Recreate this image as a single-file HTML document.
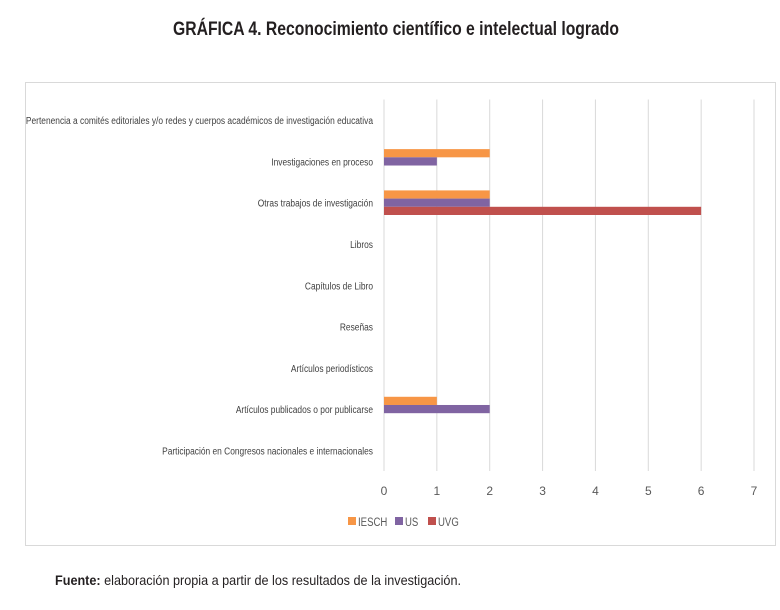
<!DOCTYPE html>
<html><head><meta charset="utf-8"><style>
body{margin:0;background:#fff;width:780px;height:605px;overflow:hidden;font-family:"Liberation Sans",sans-serif;}
svg text{font-family:"Liberation Sans",sans-serif;}
</style></head><body>
<svg id="chart" width="780" height="605">
<text x="173" y="35" font-size="19" font-weight="bold" fill="#231f20" textLength="446" lengthAdjust="spacingAndGlyphs">GRÁFICA 4. Reconocimiento científico e intelectual logrado</text>
<rect x="25.5" y="82.5" width="750" height="463" fill="none" stroke="#d9d9d9"/>
<g id="grid"></g><g id="bars"></g><g id="labels"></g><g id="legend"></g>
<text x="55" y="585" font-size="14" fill="#231f20" textLength="406" lengthAdjust="spacingAndGlyphs"><tspan font-weight="bold">Fuente:</tspan> elaboración propia a partir de los resultados de la investigación.</text>
</svg>
<script>
const categories=["Pertenencia a comités editoriales y/o redes y cuerpos académicos de investigación educativa","Investigaciones en proceso","Otras trabajos de investigación","Libros","Capítulos de Libro","Reseñas","Artículos periodísticos","Artículos publicados o por publicarse","Participación en Congresos nacionales e internacionales"];
const iesch=[0,2,2,0,0,0,0,1,0];
const us=[0,1,2,0,0,0,0,2,0];
const uvg=[0,0,6,0,0,0,0,0,0];
const ticks=[0,1,2,3,4,5,6,7];
const seriesNames=["IESCH","US","UVG"];
const colors=["#f79646","#8064a2","#c0504d"];
const NS="http://www.w3.org/2000/svg";
const x0=384,x1=754,yTop=99.5,yBot=471;
const xs=v=>x0+(x1-x0)*v/7;
const band=(yBot-yTop)/categories.length;
const yc=i=>yTop+band*(i+0.5);
function mk(t,a,p){const e=document.createElementNS(NS,t);for(const k in a)e.setAttribute(k,a[k]);p.appendChild(e);return e;}
const g=document.getElementById('grid');
ticks.forEach(t=>{
 const l=mk('line',{x1:xs(t),x2:xs(t),y1:yTop,y2:yBot,stroke:'#d9d9d9','stroke-width':1},g);
 
 
 const tx=mk('text',{x:xs(t),y:495,'text-anchor':'middle','font-size':12,fill:'#595959'},g);
 tx.textContent=t;
 
 
});
const bg=document.getElementById('bars');
const series=[iesch,us,uvg];
const bh=8.2;
const lbl=document.getElementById('labels');
categories.forEach((c,i)=>{
 const lab=mk('text',{x:0,y:0,'text-anchor':'end','font-size':10.5,fill:'#404040',transform:'translate(373,'+(yc(i)+4)+') scale(0.8,1)'},lbl);
 lab.textContent=c;
 
 
 series.forEach((s,k)=>{
  if(!s[i])return;
  const r=mk('rect',{x:xs(0),y:yc(i)-bh*1.5+k*bh,width:xs(s[i])-xs(0),height:bh,fill:colors[k]},bg);
  
  
 });
});
const lg=document.getElementById('legend');
const lx=[348,395,428];
seriesNames.forEach((n,k)=>{
 const r=mk('rect',{x:lx[k],y:517,width:8,height:8,fill:colors[k]},lg);
 
 
 const t=mk('text',{x:0,y:0,'font-size':12,fill:'#595959',transform:'translate('+(lx[k]+10)+',526) scale(0.8,1)'},lg);
 t.textContent=n;
 
 
});
</script>
</body></html>
